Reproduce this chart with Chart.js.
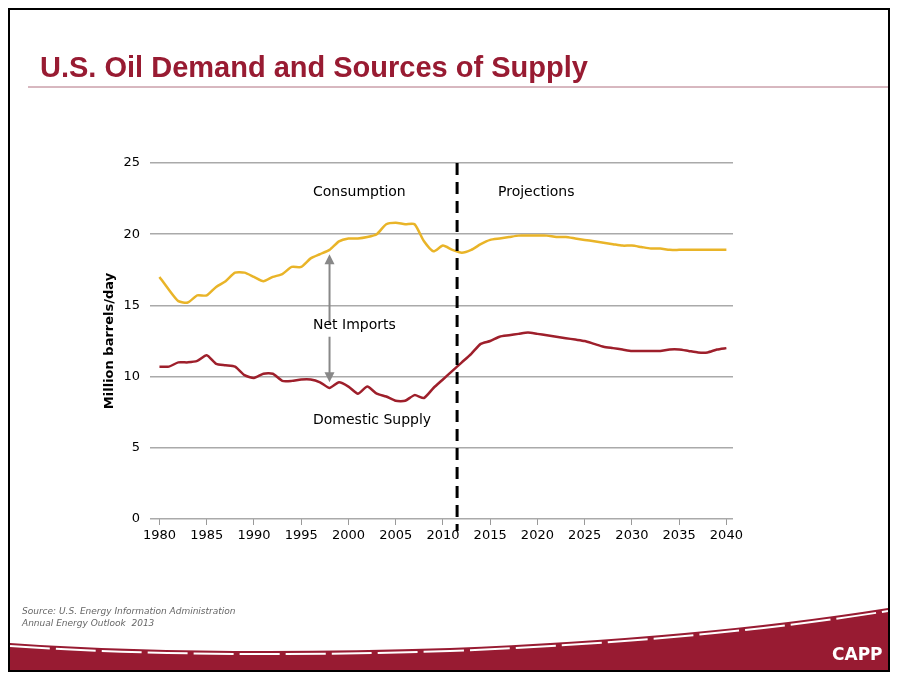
<!DOCTYPE html>
<html>
<head>
<meta charset="utf-8">
<script src="https://cdn.jsdelivr.net/npm/chart.js@4"></script>
<style>
  body { margin: 0; background: #fff; }
  #wrap { width: 901px; height: 682px; }
</style>
</head>
<body>
<div id="wrap"><canvas id="grafica"></canvas></div>
<script>
// datos (millones de barriles/dia)
const anios = [];
for (let a = 1980; a <= 2040; a++) anios.push(a);
const consumo = [17.0, 16.1, 15.3, 15.2, 15.7, 15.7, 16.3, 16.7, 17.3, 17.3,
  17.0, 16.7, 17.0, 17.2, 17.7, 17.7, 18.3, 18.6, 18.9, 19.5,
  19.7, 19.7, 19.8, 20.0, 20.7, 20.8, 20.7, 20.7, 19.5, 18.8,
  19.2, 18.9, 18.7, 18.9, 19.3, 19.6, 19.7, 19.8, 19.9, 19.9,
  19.9, 19.9, 19.8, 19.8, 19.7, 19.6, 19.5, 19.4, 19.3, 19.2,
  19.2, 19.1, 19.0, 19.0, 18.9, 18.9, 18.9, 18.9, 18.9, 18.9, 18.9];
const domestica = [10.7, 10.7, 11.0, 11.0, 11.1, 11.5, 10.9, 10.8, 10.7, 10.1,
  9.9, 10.2, 10.2, 9.7, 9.7, 9.8, 9.8, 9.6, 9.2, 9.6,
  9.3, 8.8, 9.3, 8.8, 8.6, 8.3, 8.3, 8.7, 8.5, 9.2,
  9.8, 10.4, 11.0, 11.6, 12.3, 12.5, 12.8, 12.9, 13.0, 13.1,
  13.0, 12.9, 12.8, 12.7, 12.6, 12.5, 12.3, 12.1, 12.0, 11.9,
  11.8, 11.8, 11.8, 11.8, 11.9, 11.9, 11.8, 11.7, 11.7, 11.9, 12.0];
const ticksX = [1980, 1985, 1990, 1995, 2000, 2005, 2010, 2015, 2020, 2025, 2030, 2035, 2040];
const anioProyeccion = 2011.5;
const anioFlecha = 1998;
const rojo = '#981b32';

const decoracion = {
  id: 'decoracion',
  beforeDraw(chart) {
    const c = chart.ctx;
    c.save();
    c.fillStyle = '#fff';
    c.fillRect(0, 0, 901, 682);
    c.restore();
  },
  afterDraw(chart) {
    const c = chart.ctx;
    const x = chart.scales.x, y = chart.scales.y;
    c.save();
    // linea de proyecciones
    const px = x.getPixelForValue(anioProyeccion);
    c.strokeStyle = '#000'; c.lineWidth = 3; c.setLineDash([12, 7]);
    c.beginPath(); c.moveTo(px, chart.chartArea.top); c.lineTo(px, chart.chartArea.bottom + 12); c.stroke();
    c.setLineDash([]);
    // flechas importaciones netas
    const ax = x.getPixelForValue(anioFlecha);
    const yTop = y.getPixelForValue(18.6), yBot = y.getPixelForValue(9.6);
    c.strokeStyle = '#888'; c.fillStyle = '#888'; c.lineWidth = 2;
    c.beginPath(); c.moveTo(ax, yTop + 6); c.lineTo(ax, y.getPixelForValue(13.7)); c.stroke();
    c.beginPath(); c.moveTo(ax, y.getPixelForValue(12.8)); c.lineTo(ax, yBot - 6); c.stroke();
    c.beginPath(); c.moveTo(ax, yTop); c.lineTo(ax - 5, yTop + 10); c.lineTo(ax + 5, yTop + 10); c.fill();
    c.beginPath(); c.moveTo(ax, yBot); c.lineTo(ax - 5, yBot - 10); c.lineTo(ax + 5, yBot - 10); c.fill();
    // etiquetas
    c.fillStyle = '#000'; c.font = '14px "DejaVu Sans"'; c.textBaseline = 'middle';
    c.fillText('Consumption', 313, 192);
    c.fillText('Projections', 498, 192);
    c.fillText('Net Imports', 313, 325);
    c.fillText('Domestic Supply', 313, 420);
    // titulo eje y
    c.save();
    c.translate(110, 341); c.rotate(-Math.PI / 2);
    c.font = 'bold 13px "DejaVu Sans"'; c.textAlign = 'center';
    c.fillText('Million barrels/day', 0, 0);
    c.restore();
    // titulo
    c.fillStyle = rojo; c.font = 'bold 29px "Liberation Sans"'; c.textBaseline = 'alphabetic';
    c.fillText('U.S. Oil Demand and Sources of Supply', 40, 77);
    c.strokeStyle = '#b07080'; c.lineWidth = 1;
    c.beginPath(); c.moveTo(28, 87); c.lineTo(888, 87); c.stroke();
    // fuente
    c.fillStyle = '#666'; c.font = 'italic 9px "DejaVu Sans"';
    c.fillText('Source: U.S. Energy Information Administration', 22, 614);
    c.fillText('Annual Energy Outlook  2013', 22, 626);
    // onda inferior
    c.fillStyle = rojo;
    c.beginPath();
    c.moveTo(10, 643);
    c.quadraticCurveTo(200, 656, 450, 648);
    c.quadraticCurveTo(700, 638, 888, 608);
    c.lineTo(888, 670); c.lineTo(10, 670); c.closePath(); c.fill();
    c.strokeStyle = '#fff'; c.lineWidth = 2; c.setLineDash([40, 6]);
    c.beginPath();
    c.moveTo(10, 646);
    c.quadraticCurveTo(200, 659, 450, 651);
    c.quadraticCurveTo(700, 641, 888, 611);
    c.stroke();
    c.setLineDash([]);
    c.fillStyle = '#fff'; c.font = 'bold 17px "DejaVu Sans"';
    c.fillText('CAPP', 832, 660);
    // marco
    c.strokeStyle = '#000'; c.lineWidth = 2;
    c.strokeRect(9, 9, 880, 662);
    c.restore();
  }
};

new Chart(document.getElementById('grafica'), {
  type: 'line',
  data: {
    labels: anios,
    datasets: [{
      label: 'Consumption',
      data: anios.map((a, i) => ({ x: a, y: consumo[i] })),
      borderColor: '#e9b428', borderWidth: 2.5, pointRadius: 0, tension: 0.2
    }, {
      label: 'Domestic Supply',
      data: anios.map((a, i) => ({ x: a, y: domestica[i] })),
      borderColor: '#9e1f2b', borderWidth: 2.5, pointRadius: 0, tension: 0.2
    }]
  },
  options: {
    responsive: true,
    maintainAspectRatio: false,
    animation: false,
    layout: { padding: { left: 95, top: 163, right: 168, bottom: 133 } },
    plugins: { legend: { display: false }, tooltip: { enabled: false } },
    scales: {
      x: {
        type: 'linear', min: 1979, max: 2040.7,
        afterBuildTicks: s => { s.ticks = ticksX.map(v => ({ value: v })); },
        afterFit: s => { s.height = 30; },
        grid: { display: true, drawOnChartArea: false, tickLength: 6, color: '#999' },
        border: { display: false },
        ticks: { autoSkip: false, maxRotation: 0, color: '#000', font: { family: 'DejaVu Sans', size: 13 },
          callback: v => String(v) }
      },
      y: {
        min: 0, max: 25,
        afterFit: s => { s.width = 55; },
        grid: { color: '#aaa', lineWidth: 1.5, drawTicks: false },
        border: { display: false },
        ticks: { stepSize: 5, padding: 10, color: '#000', font: { family: 'DejaVu Sans', size: 13 } }
      }
    }
  },
  plugins: [decoracion]
});
</script>
</body>
</html>
